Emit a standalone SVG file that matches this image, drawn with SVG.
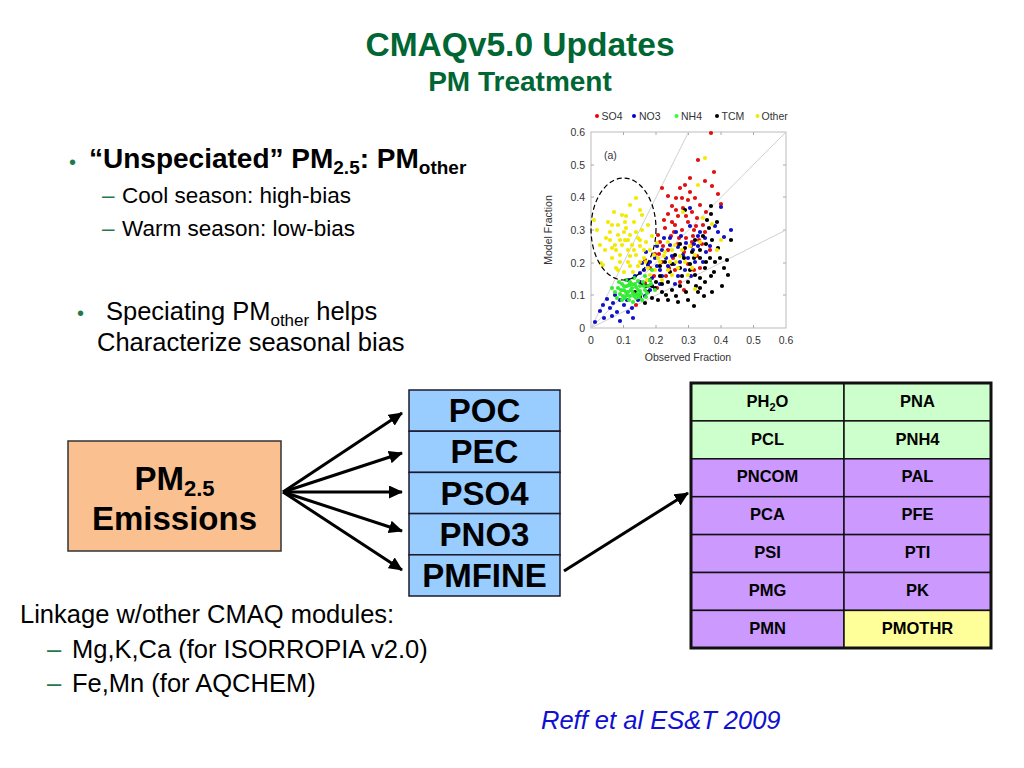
<svg xmlns="http://www.w3.org/2000/svg" width="1024" height="768" viewBox="0 0 1024 768">
<style>
text{font-family:"Liberation Sans",Arial,sans-serif;}
.title{font-weight:bold;fill:#006633;text-anchor:middle;}
.green{fill:#1f7a4a;}
.body{font-size:25.5px;fill:#000;}
.sub{font-size:22.5px;fill:#000;}
.node{font-weight:bold;font-size:33px;text-anchor:middle;fill:#000;}
.cell{font-weight:bold;font-size:16.5px;text-anchor:middle;fill:#000;}
.blue{fill:#99CCFF;stroke:#1a1a2e;stroke-width:1.5;}
.g{fill:#CCFFCC;stroke:#111;stroke-width:1.5;}
.p{fill:#CC99FF;stroke:#111;stroke-width:1.5;}
.y{fill:#FFFF99;stroke:#111;stroke-width:1.5;}
.arrow{stroke:#000;stroke-width:3;fill:none;marker-end:url(#ah);}
.ax{font-size:10.5px;fill:#333;}
.tick{stroke:#aaa;stroke-width:1;}
.dots{fill:none;stroke-width:4.2;stroke-linecap:round;}
</style>
<defs>
<marker id="ah" markerUnits="userSpaceOnUse" markerWidth="15" markerHeight="13" refX="13" refY="6.5" orient="auto">
<path d="M0,0 L14,6.5 L0,13 z" fill="#000"/>
</marker>
</defs>

<g id="title">
<text class="title" x="520" y="56" font-size="33.5">CMAQv5.0 Updates</text>
<text class="title" x="520" y="91" font-size="28">PM Treatment</text>
</g>

<g id="bullets">
<text class="green" x="69" y="169" font-size="20">•</text>
<text x="89" y="168" font-size="28" font-weight="bold">“Unspeciated” PM<tspan font-size="19" dy="6">2.5</tspan><tspan dy="-6">: PM</tspan><tspan font-size="19" dy="6">other</tspan></text>
<text class="green" x="102" y="203" font-size="22.5">–</text>
<text class="sub" x="122" y="203">Cool season: high-bias</text>
<text class="green" x="102" y="236" font-size="22.5">–</text>
<text class="sub" x="122" y="236">Warm season: low-bias</text>
<text class="green" x="77" y="320" font-size="20">•</text>
<text class="body" x="106" y="320">Speciating PM<tspan font-size="17" dy="6">other</tspan><tspan dy="-6"> helps</tspan></text>
<text class="body" x="97" y="351">Characterize seasonal bias</text>
</g>

<g id="plot">
<rect x="591" y="132" width="195" height="196" fill="#fff" stroke="#bbb" stroke-width="1"/>
<path class="tick" d="M623.5,132v3M656,132v3M688.5,132v3M721,132v3M753.5,132v3M623.5,328v-3M656,328v-3M688.5,328v-3M721,328v-3M753.5,328v-3M591,165h3M591,197h3M591,230h3M591,263h3M591,295h3M786,165h-3M786,197h-3M786,230h-3M786,263h-3M786,295h-3"/>
<path d="M591,328L786,132M591,328L688.5,132M591,328L786,230" stroke="#d0d0d0" stroke-width="1" fill="none"/>
<g class="ax" text-anchor="end">
<text x="585" y="136">0.6</text><text x="585" y="169">0.5</text><text x="585" y="201">0.4</text><text x="585" y="234">0.3</text><text x="585" y="267">0.2</text><text x="585" y="299">0.1</text><text x="585" y="332">0</text>
</g>
<g class="ax" text-anchor="middle">
<text x="591" y="344">0</text><text x="623.5" y="344">0.1</text><text x="656" y="344">0.2</text><text x="688.5" y="344">0.3</text><text x="721" y="344">0.4</text><text x="753.5" y="344">0.5</text><text x="786" y="344">0.6</text>
<text x="688" y="361">Observed Fraction</text>
<text transform="translate(552,230) rotate(-90)">Model Fraction</text>
</g>
<text class="ax" x="604" y="159">(a)</text>
<g class="ax">
<circle cx="597" cy="116" r="2" fill="#e00"/><text x="601.5" y="120">SO4</text>
<circle cx="634" cy="116" r="2" fill="#00c"/><text x="639" y="120">NO3</text>
<circle cx="676.5" cy="116" r="2" fill="#3f3"/><text x="681" y="120">NH4</text>
<circle cx="717" cy="116" r="2" fill="#000"/><text x="721.5" y="120">TCM</text>
<circle cx="757.5" cy="116" r="2" fill="#ee0"/><text x="761.5" y="120">Other</text>
</g>
<path class="dots" stroke="#e01010" d="M711,133h0M714,172h0M705,181h0M662,188h0M685,185h0M718,194h0M721,204h0M680,188h0M690,192h0M676,198h0M695,198h0M700,205h0M672,206h0M683,208h0M692,212h0M668,214h0M678,216h0M697,218h0M688,222h0M675,225h0M703,225h0M665,228h0M682,230h0M694,230h0M671,236h0M686,238h0M699,240h0M660,242h0M678,244h0M691,246h0M668,250h0M684,252h0M655,254h0M673,258h0M697,256h0M662,262h0M688,264h0M650,268h0M675,270h0M666,276h0M645,283h0M680,282h0M657,288h0M640,298h0M636,305h0M700,268h0M710,250h0M645,260h0M658,235h0M706,212h0M690,178h0M668,196h0M698,160h0M664,220h0M674,232h0M693,236h0M672,222h0M686,216h0M696,226h0M679,238h0M663,246h0M692,242h0M705,232h0M669,268h0M654,276h0M684,290h0M702,244h0M676,210h0M659,254h0M694,270h0M648,286h0M688,200h0M712,186h0M682,198h0"/>
<path class="dots" stroke="#1010c8" d="M604,318h0M610,308h0M620,321h0M633,318h0M607,299h0M617,312h0M624,305h0M627,300h0M613,303h0M600,311h0M615,295h0M638,300h0M645,296h0M650,290h0M628,312h0M595,322h0M640,273h0M648,265h0M655,258h0M662,250h0M670,245h0M678,247h0M686,243h0M693,250h0M672,256h0M680,262h0M660,270h0M668,266h0M652,278h0M685,270h0M698,246h0M705,238h0M676,232h0M690,226h0M700,232h0M664,238h0M657,246h0M646,252h0M683,255h0M695,262h0M710,246h0M731,230h0M721,207h0M724,237h0M718,232h0M703,262h0M691,276h0M675,284h0M660,284h0M715,226h0M642,263h0M690,208h0M635,276h0M628,280h0M666,258h0M674,264h0M688,258h0M698,236h0M681,236h0M650,262h0M644,270h0M662,276h0M678,276h0M694,244h0M706,252h0M657,266h0M670,238h0M612,316h0M603,305h0M632,308h0M620,300h0M640,282h0"/>
<path class="dots" stroke="#000" d="M711,214h0M727,260h0M731,240h0M711,276h0M666,295h0M700,258h0M705,268h0M695,275h0M688,282h0M680,286h0M672,290h0M662,292h0M655,288h0M648,292h0M640,296h0M650,280h0M660,276h0M670,272h0M680,268h0M690,264h0M700,250h0M710,258h0M718,248h0M715,262h0M705,282h0M696,286h0M686,292h0M676,296h0M658,300h0M645,303h0M635,292h0M642,284h0M665,262h0M675,255h0M685,248h0M695,240h0M703,236h0M709,228h0M717,222h0M712,240h0M700,278h0M668,282h0M652,298h0M682,276h0M724,268h0M706,244h0M692,252h0M660,266h0M685,210h0M711,206h0M690,270h0M698,292h0M678,302h0M668,300h0M656,282h0M646,286h0M706,262h0M720,258h0M714,272h0M694,258h0M684,258h0M672,264h0M662,284h0M652,286h0M700,288h0M728,275h0M722,286h0M712,292h0M688,300h0M694,306h0M704,296h0M680,244h0M707,220h0"/>
<path class="dots" stroke="#f2ea00" d="M597,230h0M605,250h0M610,240h0M612,225h0M615,245h0M618,235h0M620,255h0M622,215h0M625,240h0M626,228h0M628,250h0M630,235h0M632,245h0M634,222h0M636,255h0M638,238h0M640,246h0M642,230h0M644,258h0M646,242h0M648,225h0M650,250h0M630,205h0M636,198h0M642,215h0M620,262h0M616,268h0M603,265h0M628,262h0M638,266h0M608,222h0M614,212h0M646,262h0M652,236h0M624,272h0M633,272h0M618,225h0M612,258h0M640,210h0M626,216h0M600,245h0M594,220h0M657,243h0M654,255h0M660,262h0M665,252h0M670,262h0M675,245h0M680,256h0M668,242h0M685,262h0M690,246h0M662,280h0M672,275h0M695,255h0M655,270h0M700,242h0M650,275h0M678,268h0M688,275h0M705,158h0M698,185h0M695,289h0M721,240h0M717,250h0M683,212h0M703,218h0M712,224h0M622,245h0M628,240h0M634,250h0M616,250h0M610,232h0M624,232h0M636,232h0M644,250h0M620,240h0M630,256h0M612,248h0M640,240h0M625,222h0M606,238h0M618,270h0M630,266h0M648,268h0M664,256h0M672,250h0M682,250h0M658,258h0M668,270h0M676,262h0M692,268h0M640,262h0M647,280h0M601,263h0"/>
<path class="dots" stroke="#33ee33" d="M618,288h0M620,294h0M622,284h0M624,290h0M625,298h0M627,286h0M628,292h0M630,282h0M630,296h0M632,288h0M633,293h0M635,284h0M636,298h0M638,290h0M640,286h0M641,294h0M643,282h0M645,290h0M646,297h0M619,282h0M626,280h0M634,278h0M648,286h0M623,296h0M629,300h0M637,294h0M642,300h0M615,292h0M650,280h0M652,270h0M645,276h0M638,281h0M632,284h0M626,292h0M621,290h0M627,295h0M631,290h0M636,287h0M640,291h0M644,286h0M624,286h0M629,285h0M634,296h0M639,297h0M617,298h0M622,300h0M633,302h0M647,293h0M651,284h0M655,290h0M612,288h0"/>
<ellipse cx="623.5" cy="229" rx="32.5" ry="51" fill="none" stroke="#000" stroke-width="1.2" stroke-dasharray="5,3"/>
</g>

<g id="connectors">
<line class="arrow" x1="283" y1="492" x2="402" y2="413"/>
<line class="arrow" x1="283" y1="492" x2="402" y2="453"/>
<line class="arrow" x1="283" y1="492" x2="402" y2="492"/>
<line class="arrow" x1="283" y1="492" x2="402" y2="531"/>
<line class="arrow" x1="283" y1="492" x2="402" y2="570"/>
<line class="arrow" x1="564" y1="571" x2="688" y2="493"/>
</g>

<g id="pm25">
<rect x="68" y="441" width="213" height="110" fill="#FAC090" stroke="#333" stroke-width="1.5"/>
<text x="134.5" y="490" font-weight="bold" font-size="33">PM<tspan font-size="22" dy="6">2.5</tspan></text>
<text class="node" x="174.5" y="530">Emissions</text>
</g>

<g id="poc"><rect class="blue" x="409" y="390" width="151" height="41.2"/><text class="node" x="484.5" y="422">POC</text></g>
<g id="pec"><rect class="blue" x="409" y="431.2" width="151" height="41.2"/><text class="node" x="484.5" y="463">PEC</text></g>
<g id="pso4"><rect class="blue" x="409" y="472.4" width="151" height="41.2"/><text class="node" x="484.5" y="505">PSO4</text></g>
<g id="pno3"><rect class="blue" x="409" y="513.6" width="151" height="41.2"/><text class="node" x="484.5" y="546">PNO3</text></g>
<g id="pmfine"><rect class="blue" x="409" y="554.8" width="151" height="41.2"/><text class="node" x="484.5" y="587">PMFINE</text></g>

<g id="species-table">
<rect class="g" x="691" y="383" width="153" height="37.9"/><text class="cell" x="767.5" y="407">PH<tspan font-size="11" dy="4">2</tspan><tspan dy="-4">O</tspan></text>
<rect class="g" x="844" y="383" width="147" height="37.9"/><text class="cell" x="917.5" y="407">PNA</text>
<rect class="g" x="691" y="420.9" width="153" height="37.9"/><text class="cell" x="767.5" y="444.5">PCL</text>
<rect class="g" x="844" y="420.9" width="147" height="37.9"/><text class="cell" x="917.5" y="444.5">PNH4</text>
<rect class="p" x="691" y="458.8" width="153" height="37.9"/><text class="cell" x="767.5" y="482">PNCOM</text>
<rect class="p" x="844" y="458.8" width="147" height="37.9"/><text class="cell" x="917.5" y="482">PAL</text>
<rect class="p" x="691" y="496.7" width="153" height="37.9"/><text class="cell" x="767.5" y="520">PCA</text>
<rect class="p" x="844" y="496.7" width="147" height="37.9"/><text class="cell" x="917.5" y="520">PFE</text>
<rect class="p" x="691" y="534.6" width="153" height="37.9"/><text class="cell" x="767.5" y="558">PSI</text>
<rect class="p" x="844" y="534.6" width="147" height="37.9"/><text class="cell" x="917.5" y="558">PTI</text>
<rect class="p" x="691" y="572.5" width="153" height="37.9"/><text class="cell" x="767.5" y="596">PMG</text>
<rect class="p" x="844" y="572.5" width="147" height="37.9"/><text class="cell" x="917.5" y="596">PK</text>
<rect class="p" x="691" y="610.4" width="153" height="37.6"/><text class="cell" x="767.5" y="634">PMN</text>
<rect class="y" x="844" y="610.4" width="147" height="37.6"/><text class="cell" x="917.5" y="634">PMOTHR</text>
<rect x="691" y="383" width="300" height="265" fill="none" stroke="#111" stroke-width="3"/>
</g>

<g id="linkage">
<text class="body" x="20" y="623">Linkage w/other CMAQ modules:</text>
<text class="green" x="47" y="658" font-size="25.5">–</text>
<text class="body" x="72" y="658">Mg,K,Ca (for ISORROPIA v2.0)</text>
<text class="green" x="47" y="692" font-size="25.5">–</text>
<text class="body" x="72" y="692">Fe,Mn (for AQCHEM)</text>
</g>

<g id="reference">
<text x="541" y="729" font-size="25.5" font-style="italic" fill="#1010d0">Reff et al ES&amp;T 2009</text>
</g>
</svg>
